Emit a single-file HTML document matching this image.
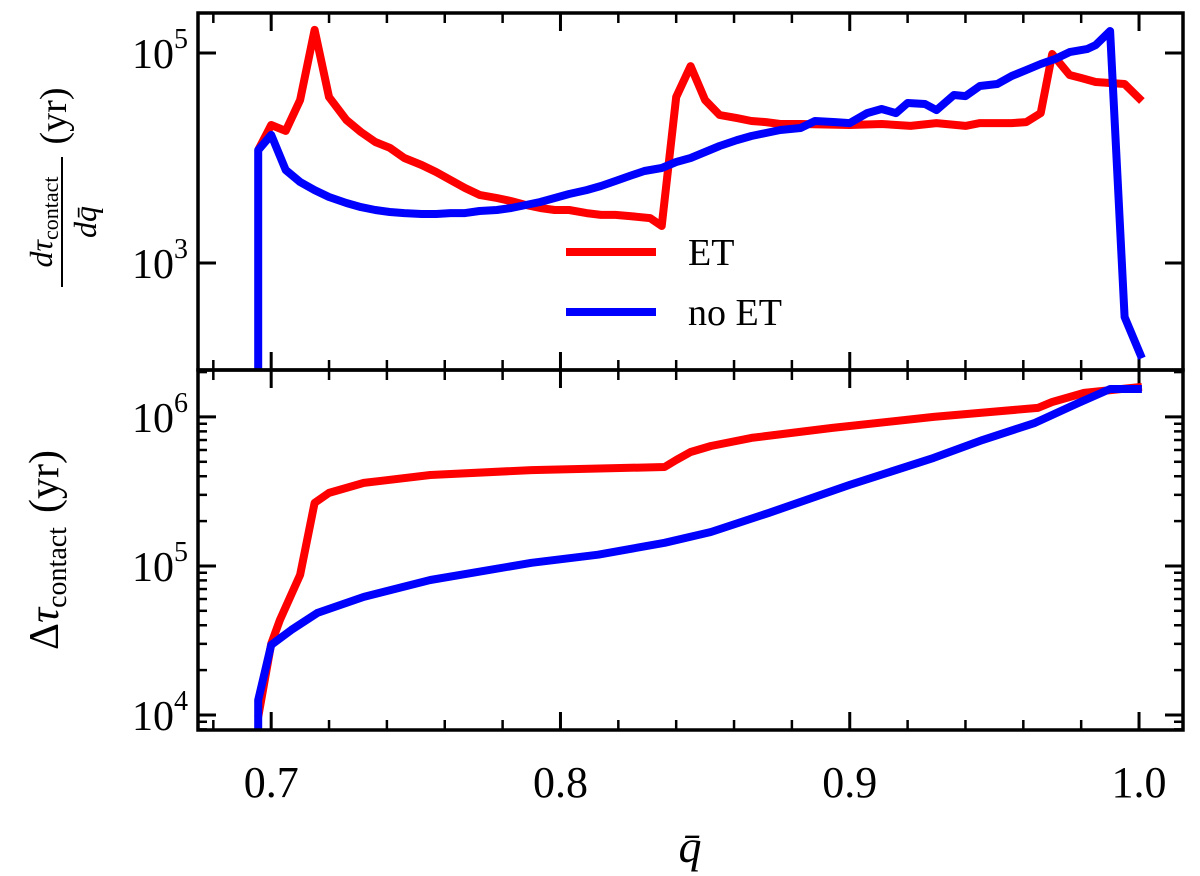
<!DOCTYPE html>
<html><head><meta charset="utf-8"><style>
body{margin:0;background:#fff}
svg{display:block}
text{font-family:"Liberation Serif","DejaVu Serif",serif;fill:#000}
</style></head><body>
<svg id="chart" width="1200" height="876" viewBox="0 0 1200 876" xmlns="http://www.w3.org/2000/svg">
<g id="top"></g>
<g id="bot"></g>
<g id="labels">
<text x="690" y="862" font-size="46" font-style="italic" text-anchor="middle">q̄</text>
<g transform="translate(52,192) rotate(-90)">
<text x="-30" y="0" font-size="32" font-style="italic" text-anchor="middle">dτ<tspan font-size="22" font-style="normal" dy="6">contact</tspan></text>
<line x1="-95" y1="10" x2="35" y2="10" stroke="#000" stroke-width="2"/>
<text x="-30" y="44" font-size="32" font-style="italic" text-anchor="middle">dq̄</text>
<text x="76" y="14" font-size="38" text-anchor="middle">(yr)</text>
</g>
<g transform="translate(58,550) rotate(-90)">
<text x="0" y="0" font-size="42" text-anchor="middle">Δ<tspan font-style="italic">τ</tspan><tspan font-size="28" dy="8">contact</tspan><tspan dy="-8" dx="14">(yr)</tspan></text>
</g>
</g>
<g id="legend">
<line x1="566" y1="252" x2="656" y2="252" stroke="#ff0000" stroke-width="8"/>
<text x="688" y="265" font-size="38">ET</text>
<line x1="566" y1="312" x2="656" y2="312" stroke="#0000ff" stroke-width="8"/>
<text x="688" y="325" font-size="38">no ET</text>
</g>
</svg>
<script>
// ---- data ----
const topRedQ=[0.6955,0.700,0.705,0.710,0.715,0.720,0.726,0.731,0.736,0.741,0.746,0.752,0.757,0.762,0.767,0.772,0.778,0.783,0.788,0.793,0.798,0.803,0.809,0.814,0.819,0.824,0.831,0.835,0.840,0.845,0.850,0.855,0.861,0.866,0.871,0.876,0.883,0.900,0.911,0.921,0.930,0.940,0.945,0.956,0.961,0.966,0.970,0.976,0.980,0.985,0.990,0.995,1.001];
const topRedV=[11900,20600,18100,35600,166000,38100,23000,17700,14200,12500,10000,8570,7360,6170,5180,4450,4160,3890,3570,3340,3200,3200,2990,2870,2870,2800,2680,2250,38100,75100,35600,25700,24000,22500,22000,21100,21100,20600,21100,20200,21500,20200,21500,21500,22000,26800,97800,61700,57800,52900,51800,50700,34900];
const topBlueQ=[0.6955,0.6955,0.700,0.705,0.710,0.715,0.720,0.726,0.731,0.736,0.741,0.746,0.752,0.757,0.762,0.767,0.772,0.778,0.783,0.788,0.793,0.798,0.803,0.809,0.814,0.819,0.824,0.829,0.835,0.840,0.845,0.850,0.855,0.861,0.866,0.871,0.876,0.883,0.888,0.895,0.900,0.906,0.911,0.916,0.920,0.926,0.930,0.936,0.940,0.945,0.951,0.956,0.961,0.966,0.971,0.976,0.982,0.985,0.990,0.995,1.001];
const topBlueV=[90,11900,16600,7690,5910,4950,4250,3730,3410,3200,3060,2990,2930,2930,2990,2990,3130,3200,3340,3570,3810,4160,4540,4950,5410,6040,6750,7520,8040,9170,10000,11400,13000,14800,16200,17300,18500,19300,22500,22000,21500,26800,29300,26800,33400,32700,28600,39800,38900,48500,50700,60400,68800,78500,87700,102000,109000,119000,162000,306,124];
const botRedQ=[0.6955,0.700,0.703,0.710,0.715,0.720,0.732,0.755,0.790,0.836,0.840,0.845,0.852,0.866,0.894,0.929,0.965,0.970,0.981,1.001];
const botRedV=[9700,30000,43400,87100,265000,309000,361000,408000,440000,461000,514000,582000,638000,723000,844000,1000000,1150000,1260000,1450000,1590000];
const botBlueQ=[0.6955,0.6955,0.700,0.707,0.716,0.732,0.755,0.790,0.813,0.836,0.852,0.872,0.900,0.929,0.946,0.964,0.979,0.990,1.001];
const botBlueV=[7000,12600,29500,37200,48400,62000,80500,105000,119000,143000,169000,227000,350000,531000,701000,912000,1240000,1540000,1540000];
const xTickVals=[0.7,0.8,0.9,1.0];
const xTickLabels=["0.7","0.8","0.9","1.0"];
const topYTickExp=[3,5];
const botYTickExp=[4,5,6];

// ---- layout ----
const L=198,R=1183,T=13,M=370,B=730;
const X0=0.6747,X1=1.0152;
const sx=q=>L+(q-X0)/(X1-X0)*(R-L);
const topLo=1.981,topHi=5.381, botLo=3.899, botHi=6.315;
const syT=v=>M-(Math.log10(v)-topLo)/(topHi-topLo)*(M-T);
const syB=v=>B-(Math.log10(v)-botLo)/(botHi-botLo)*(B-M);
const NS="http://www.w3.org/2000/svg";
function mk(tag,attrs,parent){const e=document.createElementNS(NS,tag);for(const k in attrs)e.setAttribute(k,attrs[k]);parent.appendChild(e);return e;}
const svg=document.getElementById('chart');

function panel(g,y0,y1,sy,lo,hi,majorExp,minor,clipId){
  const defs=mk('defs',{},g);
  const cp=mk('clipPath',{id:clipId},defs);
  mk('rect',{x:L,y:y0,width:R-L,height:y1-y0},cp);
  for(let i=0;i<=20;i++){
    const q=0.68+i*0.02; if(q>X1)break;
    const x=sx(q);
    const t1=mk('line',{x1:x,y1:y1,x2:x,y2:y1-10,stroke:'#000','stroke-width':2.5},g);
    
    
    mk('line',{x1:x,y1:y0,x2:x,y2:y0+10,stroke:'#000','stroke-width':2.5},g);
  }
  xTickVals.forEach(q=>{
    const x=sx(q);
    const t=mk('line',{x1:x,y1:y1,x2:x,y2:y1-18,stroke:'#000','stroke-width':3},g);
    
    
    mk('line',{x1:x,y1:y0,x2:x,y2:y0+18,stroke:'#000','stroke-width':3},g);
  });
  if(minor){
    for(let d=Math.floor(lo);d<=Math.ceil(hi);d++){
      for(let m=2;m<=9;m++){
        const lv=d+Math.log10(m); if(lv<lo||lv>hi)continue;
        const y=sy(Math.pow(10,lv));
        const t=mk('line',{x1:L,y1:y,x2:L+9,y2:y,stroke:'#000','stroke-width':2.5},g);
        
        
        mk('line',{x1:R,y1:y,x2:R-9,y2:y,stroke:'#000','stroke-width':2.5},g);
      }
    }
  }
  majorExp.forEach(e=>{
    const y=sy(Math.pow(10,e));
    const t=mk('line',{x1:L,y1:y,x2:L+18,y2:y,stroke:'#000','stroke-width':3},g);
    
    
    mk('line',{x1:R,y1:y,x2:R-18,y2:y,stroke:'#000','stroke-width':3},g);
    const tx=mk('text',{x:188,y:y+15,'font-size':42,'text-anchor':'end'},g);
    
    
    tx.textContent='10';
    const sp=mk('tspan',{dy:-20,'font-size':28},tx);
    sp.textContent=String(e);
  });
}
function series(g,qs,vs,sy,color,clip,name){
  const d=qs.map((q,i)=>(i?'L':'M')+sx(q).toFixed(1)+','+sy(vs[i]).toFixed(1)).join(' ');
  const p=mk('path',{d:d,fill:'none',stroke:color,'stroke-width':8,'stroke-linejoin':'round','clip-path':'url(#'+clip+')'},g);
  
  
}
const gT=document.getElementById('top'), gB=document.getElementById('bot');
panel(gT,T,M,syT,topLo,topHi,topYTickExp,false,'clipT');
panel(gB,M,B,syB,botLo,botHi,botYTickExp,true,'clipB');
series(gT,topRedQ,topRedV,syT,'#ff0000','clipT','top-et-line');
series(gT,topBlueQ,topBlueV,syT,'#0000ff','clipT','top-no-et-line');
series(gB,botRedQ,botRedV,syB,'#ff0000','clipB','bottom-et-line');
series(gB,botBlueQ,botBlueV,syB,'#0000ff','clipB','bottom-no-et-line');
[[T,M],[M,B]].forEach(([a,b])=>{
  const r=mk('rect',{x:L,y:a,width:R-L,height:b-a,fill:'none',stroke:'#000','stroke-width':3.5},svg);
  
  
});
xTickVals.forEach((q,i)=>{
  const t=mk('text',{x:sx(q),y:797,'font-size':44,'text-anchor':'middle'},svg);
  
  
  t.textContent=xTickLabels[i];
});
svg.appendChild(document.getElementById('legend'));
</script>
</body></html>
